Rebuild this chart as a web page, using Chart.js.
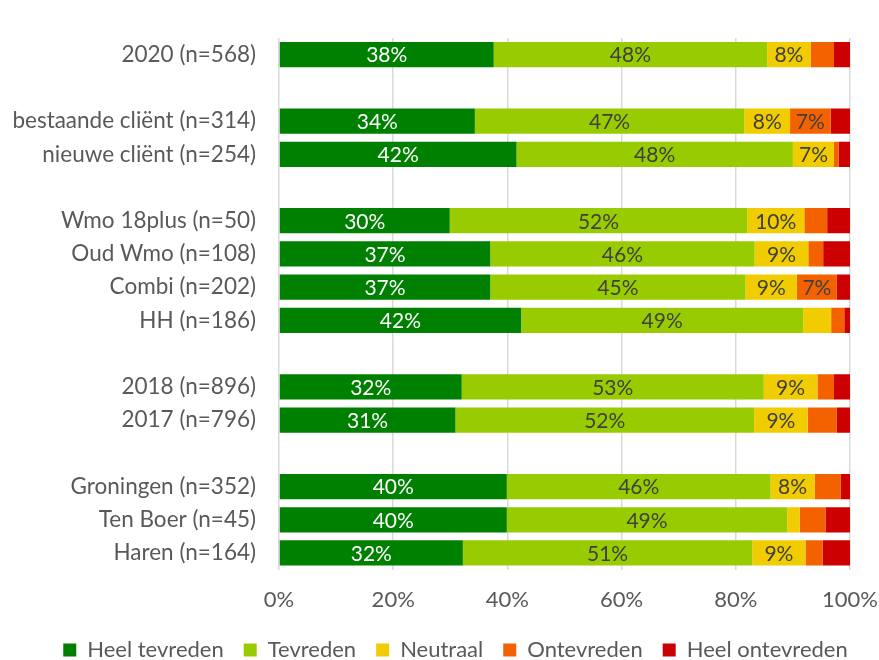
<!DOCTYPE html>
<html>
<head>
<meta charset="utf-8">
<script src="https://cdn.jsdelivr.net/npm/chart.js@4"></script>
<style>
  body { margin: 0; background: #fff; }
  #wrap { width: 879px; height: 660px; }
</style>
</head>
<body>
<div id="wrap"><canvas id="grafiek" width="879" height="660"></canvas></div>
<script>
// categorieen, lege labels zijn de witregels tussen de groepen
const categorieen = [
  '2020 (n=568)', '',
  'bestaande cliënt (n=314)', 'nieuwe cliënt (n=254)', '',
  'Wmo 18plus (n=50)', 'Oud Wmo (n=108)', 'Combi (n=202)', 'HH (n=186)', '',
  '2018 (n=896)', '2017 (n=796)', '',
  'Groningen (n=352)', 'Ten Boer (n=45)', 'Haren (n=164)'
];

const heelTevreden   = [37.6, null, 34.3, 41.6, null, 29.9, 37.0, 37.0, 42.4, null, 32.0, 30.9, null, 39.9, 39.9, 32.2];
const tevreden       = [47.9, null, 47.2, 48.4, null, 52.1, 46.3, 44.7, 49.4, null, 52.9, 52.3, null, 46.2, 49.1, 50.7];
const neutraal       = [7.6,  null, 8.0,  7.2,  null, 10.0, 9.4,  9.0,  4.9,  null, 9.4,  9.4,  null, 7.7,  2.2,  9.3];
const ontevreden     = [4.1,  null, 7.1,  0.8,  null, 4.0,  2.6,  7.0,  2.3,  null, 2.9,  5.1,  null, 4.6,  4.5,  3.0];
const heelOntevreden = [2.8,  null, 3.4,  2.0,  null, 4.0,  4.7,  2.3,  1.0,  null, 2.8,  2.3,  null, 1.6,  4.3,  4.8];

const xTicks = [0, 20, 40, 60, 80, 100];

const fontNaam = 'Lato, "Open Sans", sans-serif';

// percentages in de balken tekenen (alleen als het vak breed genoeg is)
const labelsInBalk = {
  id: 'labelsInBalk',
  afterDatasetsDraw(chart) {
    const ctx = chart.ctx;
    ctx.save();
    ctx.font = '21px ' + fontNaam;
    ctx.textAlign = 'center';
    ctx.textBaseline = 'middle';
    chart.data.datasets.forEach((dataset, i) => {
      const meta = chart.getDatasetMeta(i);
      meta.data.forEach((balk, j) => {
        const waarde = dataset.data[j];
        if (waarde == null || waarde < 6.5) return;
        ctx.fillStyle = i === 0 ? '#ffffff' : '#404040';
        ctx.fillText(Math.round(waarde) + '%', (balk.x + balk.base) / 2, balk.y + 1);
      });
    });
    ctx.restore();
  }
};

// legenda staat in het origineel iets rechts van het midden
const legendaOpschuiven = {
  id: 'legendaOpschuiven',
  afterLayout(chart) {
    chart.legend.left += 16;
    chart.legend.right += 16;
  }
};

function maakSerie(naam, data, kleur) {
  return {
    label: naam,
    data: data,
    backgroundColor: kleur,
    borderWidth: 0,
    barPercentage: 0.76,
    categoryPercentage: 1
  };
}

const grafiek = new Chart(document.getElementById('grafiek'), {
  type: 'bar',
  data: {
    labels: categorieen,
    datasets: [
      maakSerie('Heel tevreden', heelTevreden, '#008000'),
      maakSerie('Tevreden', tevreden, '#99cc00'),
      maakSerie('Neutraal', neutraal, '#f0cc00'),
      maakSerie('Ontevreden', ontevreden, '#f46200'),
      maakSerie('Heel ontevreden', heelOntevreden, '#cc0000')
    ]
  },
  options: {
    indexAxis: 'y',
    responsive: false,
    animation: false,
    devicePixelRatio: 1,
    layout: { padding: { top: 38, right: 0, left: 0, bottom: -11 } },
    scales: {
      x: {
        stacked: true,
        min: 0,
        max: 100,
        afterBuildTicks: (scale) => { scale.ticks = xTicks.map(v => ({ value: v })); },
        afterFit: (scale) => {
          scale.paddingRight = 29;
          scale.paddingLeft = 0;
          scale.height -= 11;
        },
        ticks: {
          callback: (v) => v + '%',
          color: '#595959',
          font: { size: 22, family: fontNaam },
          padding: 17,
          maxRotation: 0
        },
        grid: { color: '#d9d9d9', lineWidth: 1.5, drawTicks: false },
        border: { display: false }
      },
      y: {
        stacked: true,
        afterFit: (scale) => { scale.width = 279; },
        ticks: {
          color: '#595959',
          font: { size: 22.5, family: fontNaam },
          padding: 23,
          autoSkip: false
        },
        grid: { display: false, drawTicks: false },
        border: { display: false }
      }
    },
    plugins: {
      tooltip: { enabled: false },
      legend: {
        position: 'bottom',
        labels: {
          color: '#595959',
          font: { size: 22, family: fontNaam },
          boxWidth: 13,
          boxHeight: 13,
          padding: 20
        }
      }
    }
  },
  plugins: [labelsInBalk, legendaOpschuiven]
});
</script>
</body>
</html>
